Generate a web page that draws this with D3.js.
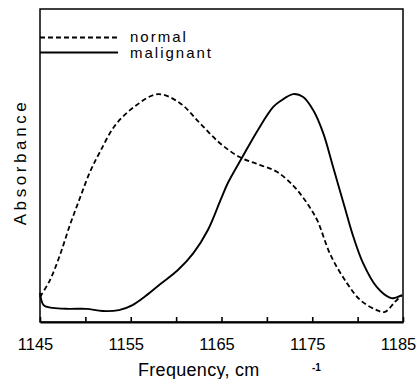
<!DOCTYPE html>
<html><head><meta charset="utf-8">
<script src="https://cdn.jsdelivr.net/npm/d3@7"></script>
<style>body{margin:0;background:#fff}svg{display:block}</style>
</head><body>
<svg id="c" width="417" height="379"></svg>
<script>
// Frequency (cm^-1) and relative absorbance (0 = baseline, 1 = top of frame)
const normalFreq = [1145.0,1146.1,1147.2,1148.3,1149.4,1150.5,1151.6,1153.3,1155.5,1158.0,1160.4,1162.6,1164.8,1167.0,1169.2,1171.1,1172.9,1174.0,1174.8,1175.6,1177.0,1178.8,1180.3,1182.1,1183.0,1184.1,1184.9];
const normalAbs  = [0.080,0.134,0.214,0.310,0.396,0.479,0.543,0.629,0.690,0.728,0.700,0.636,0.572,0.527,0.502,0.480,0.436,0.397,0.363,0.322,0.215,0.125,0.070,0.038,0.032,0.064,0.086];
const malignantFreq = [1145.0,1145.4,1146.4,1148.2,1150.1,1151.9,1153.7,1155.2,1156.6,1158.3,1160.2,1161.9,1163.5,1164.9,1165.7,1167.3,1169.0,1170.7,1171.5,1172.9,1174.0,1175.1,1176.2,1177.3,1178.6,1179.4,1180.6,1182.1,1183.6,1184.1,1184.9];
const malignantAbs  = [0.093,0.054,0.045,0.042,0.042,0.035,0.038,0.054,0.082,0.122,0.166,0.220,0.294,0.390,0.444,0.527,0.613,0.687,0.706,0.728,0.719,0.677,0.604,0.495,0.364,0.284,0.188,0.112,0.077,0.077,0.086];
const tickValues = [1145,1150,1155,1160,1165,1170,1175,1180,1185];
const tickLabels = ["1145","1155","1165","1175","1185"];
const legendLabels = ["normal","malignant"];

const svg = d3.select("#c");
const x = d3.scaleLinear().domain([1145,1185]).range([40,403]);
const y = d3.scaleLinear().domain([0,1]).range([322,9]);
const font = "'Liberation Sans', Arial, Helvetica, sans-serif";

// frame
svg.append("rect").attr("x",40).attr("y",9).attr("width",363).attr("height",313)
  .attr("fill","none").attr("stroke","#000").attr("stroke-width",1.5);

// bottom axis with inward ticks
const ax = svg.append("g").attr("transform","translate(0,322)")
  .call(d3.axisBottom(x).tickValues(tickValues).tickSizeInner(-5).tickSizeOuter(0)
    .tickFormat(d => tickLabels.includes(String(d)) ? String(d) : ""));
ax.select(".domain").attr("stroke","#000").attr("stroke-width",2.2);
ax.selectAll(".tick line").attr("stroke","#000").attr("stroke-width",1.6);
ax.selectAll(".tick text").attr("fill","#000").attr("font-family",font).attr("font-size","16.5px")
  .attr("y",null).attr("dy",null).attr("dx",-5).attr("transform","translate(0,28)");

const line = d3.line().x(d=>x(d[0])).y(d=>y(d[1])).curve(d3.curveCatmullRom.alpha(0.5));
const nData = normalFreq.map((f,i)=>[f,normalAbs[i]]);
const mData = malignantFreq.map((f,i)=>[f,malignantAbs[i]]);

svg.append("path").attr("d",line(nData)).attr("fill","none").attr("stroke","#000")
  .attr("stroke-width",1.8).attr("stroke-dasharray","5,3");
svg.append("path").attr("d",line(mData)).attr("fill","none").attr("stroke","#000")
  .attr("stroke-width",1.9);

// legend
const lg = svg.append("g");
lg.append("line").attr("x1",40).attr("x2",118).attr("y1",37.5).attr("y2",37.5)
  .attr("stroke","#000").attr("stroke-width",1.8).attr("stroke-dasharray","5,3");
lg.append("line").attr("x1",40).attr("x2",118).attr("y1",52.5).attr("y2",52.5)
  .attr("stroke","#000").attr("stroke-width",1.8);
lg.selectAll("text").data(legendLabels).join("text")
  .attr("x",130).attr("y",(d,i)=>i===0?41.5:57.5)
  .attr("font-family",font).attr("font-size","15px").attr("letter-spacing","2px")
  .text(d=>d);

// axis titles
svg.append("text").attr("x",138).attr("y",376)
  .attr("font-family",font).attr("font-size","18px").attr("letter-spacing","0.3px")
  .text("Frequency, cm");
svg.append("text").attr("x",312).attr("y",370.5)
  .attr("font-family",font).attr("font-size","10px").attr("font-weight","bold")
  .text("-1");

svg.append("text").attr("transform","translate(26,162) rotate(-90)")
  .attr("text-anchor","middle").attr("font-family",font).attr("font-size","17px")
  .attr("letter-spacing","3.6px").text("Absorbance");
</script>
</body></html>
